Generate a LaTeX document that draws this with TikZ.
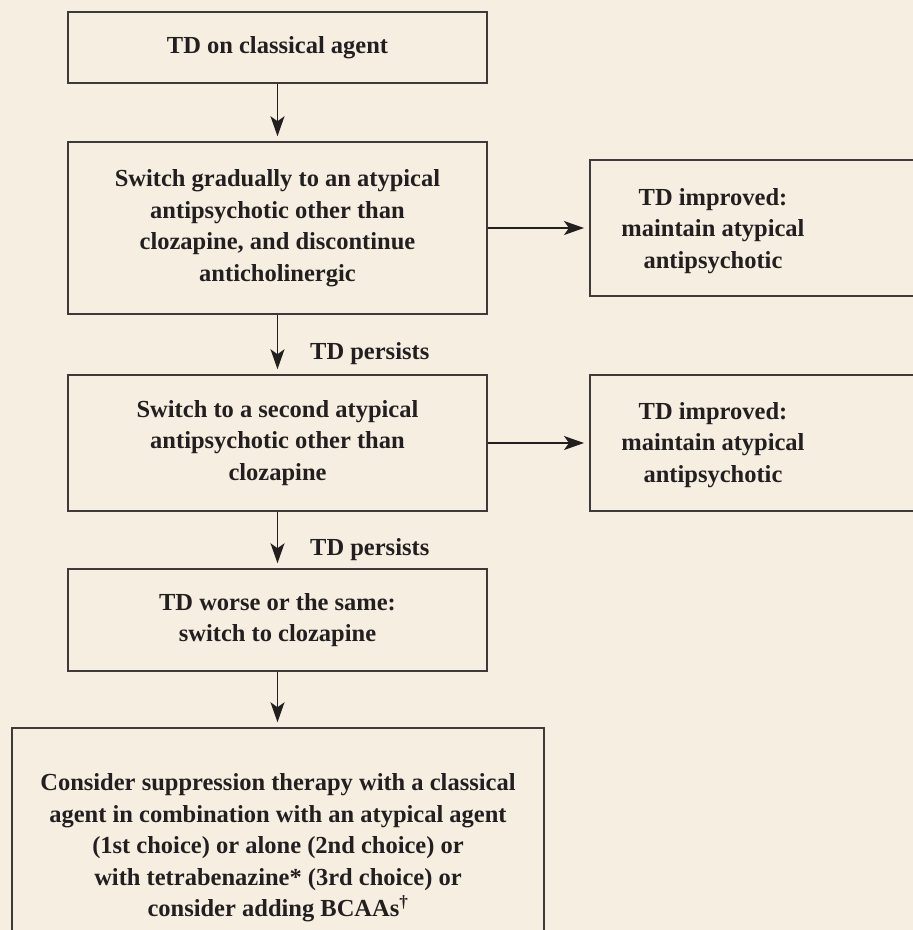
\documentclass[tikz,border=0pt]{standalone}
\usepackage{fontspec}
\setmainfont{Liberation Serif}
\usetikzlibrary{arrows.meta,positioning}
\definecolor{paper}{RGB}{246,239,225}
\definecolor{ink}{RGB}{35,31,32}
\definecolor{rule}{RGB}{62,58,58}

\begin{document}
\begin{tikzpicture}[x=1pt, y=-1pt,
    box/.style={draw=rule, line width=1.5pt, rectangle, inner sep=0pt, align=center,
        text=ink, font=\fontsize{24.5}{31.5}\selectfont\bfseries, minimum width=419pt},
    txt/.style={inner sep=0pt, align=center, text=ink, font=\fontsize{24.5}{31.5}\selectfont\bfseries},
    arr/.style={draw=ink, line width=1.3pt, shorten >=5pt,
        -{Stealth[length=20pt, width=14pt, inset=5pt]}}]
    \fill[paper] (0,0) rectangle (913,930);
    \useasboundingbox (0,0) rectangle (913,930);
    \node[box, minimum height=71pt] (start) at (277.5,47.5) {TD on classical agent};
    \node[box, minimum height=172pt] (sw1) at (277.5,228) {Switch gradually to an atypical\\antipsychotic other than\\clozapine, and discontinue\\anticholinergic};
    \node[box, minimum height=136pt] (sw2) at (277.5,443) {Switch to a second atypical\\antipsychotic other than\\clozapine};
    \node[box, minimum height=102pt] (worse) at (277.5,620) {TD worse or the same:\\switch to clozapine};
    \node[box, minimum width=532pt, minimum height=240pt] (supp) at (278,848) {Consider suppression therapy with a classical\\agent in combination with an atypical agent\\(1st choice) or alone (2nd choice) or\\with tetrabenazine* (3rd choice) or\\consider adding BCAAs\textsuperscript{\textdagger}};
    \node[box, anchor=west, minimum width=360pt, minimum height=136pt] (imp1) at (589,228) {};
    \node[box, anchor=west, minimum width=360pt, minimum height=136pt] (imp2) at (589,443) {};
    \node[txt] (imp1txt) at (713,231) {TD improved:\\maintain atypical\\antipsychotic};
    \node[txt] (imp2txt) at (713,445) {TD improved:\\maintain atypical\\antipsychotic};
    \node[txt, anchor=west] (pers1) at (310,354) {TD persists};
    \node[txt, anchor=west] (pers2) at (310,550) {TD persists};
    \draw[arr] (start.south) -- (sw1.north);
    \draw[arr] (sw1.south) -- (sw2.north);
    \draw[arr] (sw2.south) -- (worse.north);
    \draw[arr] (worse.south) -- (worse.south |- supp.north);
    \draw[arr] (sw1.east) -- (imp1.west);
    \draw[arr] (sw2.east) -- (imp2.west);
\end{tikzpicture}
\end{document}
